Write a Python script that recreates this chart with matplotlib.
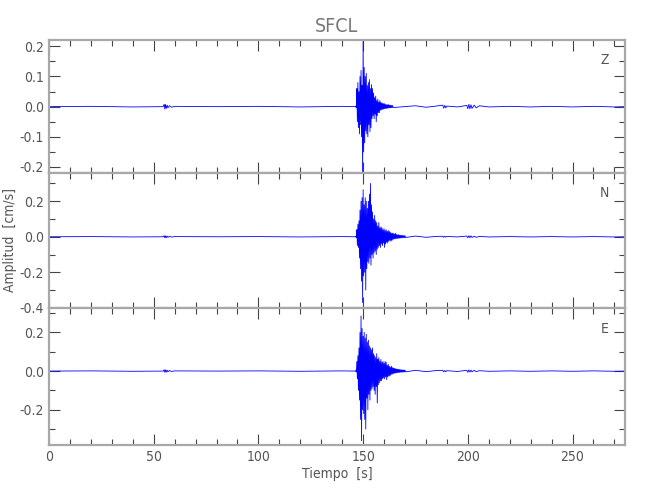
import numpy as np
import matplotlib.pyplot as plt
from matplotlib.ticker import MultipleLocator

plt.rcParams['font.family'] = ['Liberation Sans Narrow', 'DejaVu Sans']
plt.rcParams['font.stretch'] = 'condensed'

station = 'SFCL'
components = ['Z', 'N', 'E']

# dense part of the record: samples every 0.25 s starting at 146.5 s
t0_dense = 146.5
dt_dense = 0.25

z_dense = [0.002, -0.004, 0.06, -0.05, 0.08, -0.07, 0.05, -0.09,
           0.10, -0.06, 0.12, -0.10, 0.07, -0.22, 0.22, -0.15,
           0.13, -0.12, 0.10, -0.08, 0.11, -0.09, 0.07, -0.10,
           0.08, -0.06, 0.09, -0.083, 0.06, -0.07, 0.073, -0.04,
           0.06, -0.03, 0.045, -0.04, 0.03, -0.025, 0.035, -0.05,
           0.02, -0.03, 0.025, -0.02, 0.015, -0.02, 0.02, -0.012,
           0.014, -0.01, 0.012, -0.009, 0.01, -0.008, 0.011, -0.007,
           0.008, -0.006, 0.007, -0.006, 0.006, -0.005, 0.007, -0.004,
           0.005, -0.004, 0.005, -0.004, 0.004, -0.003, 0.004, -0.003]

n_dense = [0.003, -0.004, 0.04, -0.05, 0.07, -0.06, 0.09, -0.12,
           0.15, -0.18, 0.20, -0.25, 0.22, -0.37, 0.265, -0.22,
           0.18, -0.20, 0.22, -0.30, 0.20, -0.18, 0.16, -0.14,
           0.20, -0.15, 0.24, -0.12, 0.30, -0.16, 0.18, -0.10,
           0.14, -0.12, 0.10, -0.09, 0.12, -0.08, 0.09, -0.10,
           0.08, -0.07, 0.06, -0.06, 0.08, -0.05, 0.05, -0.06,
           0.055, -0.04, 0.05, -0.05, 0.04, -0.035, 0.045, -0.06,
           0.035, -0.04, 0.04, -0.03, 0.03, -0.035, 0.035, -0.025,
           0.03, -0.02, 0.025, -0.025, 0.02, -0.02, 0.02, -0.015,
           0.018, -0.012, 0.015, -0.012, 0.02, -0.01, 0.012, -0.01,
           0.01, -0.008, 0.012, -0.008, 0.008, -0.007, 0.009, -0.006,
           0.007, -0.006, 0.008, -0.005, 0.006, -0.005, 0.006, -0.004]

e_dense = [0.003, -0.005, 0.05, -0.04, 0.08, -0.10, 0.12, -0.15,
           0.20, -0.25, 0.285, -0.36, 0.22, -0.20, 0.18, -0.22,
           0.20, -0.25, 0.17, -0.30, 0.19, -0.14, 0.15, -0.20,
           0.16, -0.12, 0.13, -0.15, 0.12, -0.10, 0.11, -0.09,
           0.12, -0.08, 0.09, -0.10, 0.08, -0.12, 0.07, -0.08,
           0.09, -0.165, 0.06, -0.07, 0.07, -0.06, 0.05, -0.05,
           0.06, -0.05, 0.045, -0.04, 0.05, -0.035, 0.04, -0.04,
           0.05, -0.03, 0.045, -0.045, 0.03, -0.03, 0.035, -0.025,
           0.025, -0.025, 0.02, -0.02, 0.025, -0.015, 0.018, -0.015,
           0.015, -0.012, 0.014, -0.01, 0.012, -0.01, 0.01, -0.008,
           0.01, -0.008, 0.009, -0.007, 0.008, -0.006, 0.007, -0.006,
           0.006, -0.005, 0.006, -0.005, 0.005, -0.004, 0.005, -0.004]

# quiet parts before the main arrival (small burst near 55-58 s)
pre_t = [0, 20, 40, 54.5, 55.0, 55.3, 55.6, 56.0, 56.4, 56.8, 57.5, 58.5, 60,
         80, 100, 120, 140, 146.25]
z_pre = [0, 0.001, -0.001, 0, 0.008, -0.008, 0.007, -0.006, 0.005, -0.004,
         0.003, -0.002, 0.001, 0, 0.001, -0.001, 0.001, 0]
n_pre = [0, 0.001, -0.001, 0, 0.006, -0.006, 0.005, -0.005, 0.004, -0.003,
         0.003, -0.002, 0.001, 0, 0.001, -0.001, 0.001, 0]
e_pre = [0, 0.001, -0.001, 0, 0.007, -0.007, 0.006, -0.005, 0.005, -0.004,
         0.003, -0.002, 0.001, 0, 0.001, -0.001, 0.001, 0]

# tail after the coda (small bursts near 189 s and 200-205 s)
post_t = [175, 180, 185, 188.0, 188.5, 189.0, 189.5, 190.0, 195, 199.5,
          200.0, 200.5, 201.0, 201.5, 202.0, 203.0, 204.0, 205.5, 210, 220,
          230, 240, 250, 260, 270, 275]
z_post = [0.003, -0.002, 0.002, 0.005, -0.005, 0.004, -0.004, 0.002, -0.001, 0.004,
          -0.007, 0.008, -0.007, 0.006, -0.006, 0.005, -0.004, 0.003, -0.001, 0.001,
          -0.001, 0.001, -0.001, 0.001, -0.001, 0]
n_post = [0.004, -0.003, 0.002, 0.003, -0.003, 0.003, -0.002, 0.002, -0.001, 0.004,
          -0.006, 0.006, -0.005, 0.005, -0.004, 0.003, -0.003, 0.002, -0.001, 0.001,
          -0.001, 0.001, -0.001, 0.001, -0.001, 0]
e_post = [0.004, -0.003, 0.003, 0.004, -0.004, 0.003, -0.003, 0.002, -0.002, 0.004,
          -0.006, 0.006, -0.005, 0.005, -0.004, 0.004, -0.003, 0.002, -0.001, 0.001,
          -0.001, 0.001, -0.001, 0.001, -0.001, 0]

traces = [(z_pre, z_dense, z_post), (n_pre, n_dense, n_post), (e_pre, e_dense, e_post)]
ylims = [(-0.22, 0.221), (-0.401, 0.359), (-0.382, 0.326)]
ymajor = [0.1, 0.2, 0.2]
yminor = [0.05, 0.1, 0.1]

# panel boxes in figure fractions
boxes = [[0.0754, 0.654, 0.886, 0.266],
         [0.0754, 0.384, 0.886, 0.270],
         [0.0754, 0.110, 0.886, 0.274]]

axis_grey = '#a8a8a8'
text_grey = '#555555'

fig = plt.figure(figsize=(6.5, 5), dpi=100)

for i in range(3):
    ax = fig.add_axes(boxes[i])
    pre, dense, post = traces[i]
    t_dense = t0_dense + dt_dense * np.arange(len(dense))
    t = np.concatenate([pre_t, t_dense, post_t])
    y = np.concatenate([pre, dense, post])
    ax.plot(t, y, color='#0000ff', lw=0.6)

    ax.set_xlim(0, 275)
    ax.set_ylim(*ylims[i])
    ax.xaxis.set_major_locator(MultipleLocator(50))
    ax.xaxis.set_minor_locator(MultipleLocator(10))
    ax.yaxis.set_major_locator(MultipleLocator(ymajor[i]))
    ax.yaxis.set_minor_locator(MultipleLocator(yminor[i]))
    ax.yaxis.set_major_formatter(lambda v, p: '%.1f' % v if abs(v) > 1e-9 else '0.0')
    ax.tick_params(which='both', direction='in', top=True, right=True,
                   color='#444444', width=0.8, labelsize=10, labelcolor=text_grey)
    ax.tick_params(which='major', length=8)
    ax.tick_params(which='minor', length=4)
    for s in ax.spines.values():
        s.set_color(axis_grey)
        s.set_linewidth(1.6)
    if i < 2:
        ax.tick_params(labelbottom=False)
    ax.text(0.965, 0.85, components[i], transform=ax.transAxes, ha='center',
            va='center', fontsize=10, color=text_grey)
    if i == 0:
        ax.set_title(station, fontsize=14, color='#777777', pad=6)
    if i == 1:
        ax.set_ylabel('Amplitud  [cm/s]', fontsize=10, color=text_grey, labelpad=2)
    if i == 2:
        ax.set_xlabel('Tiempo  [s]', fontsize=10, color=text_grey, labelpad=2)

fig.savefig('out.png', dpi=100)
